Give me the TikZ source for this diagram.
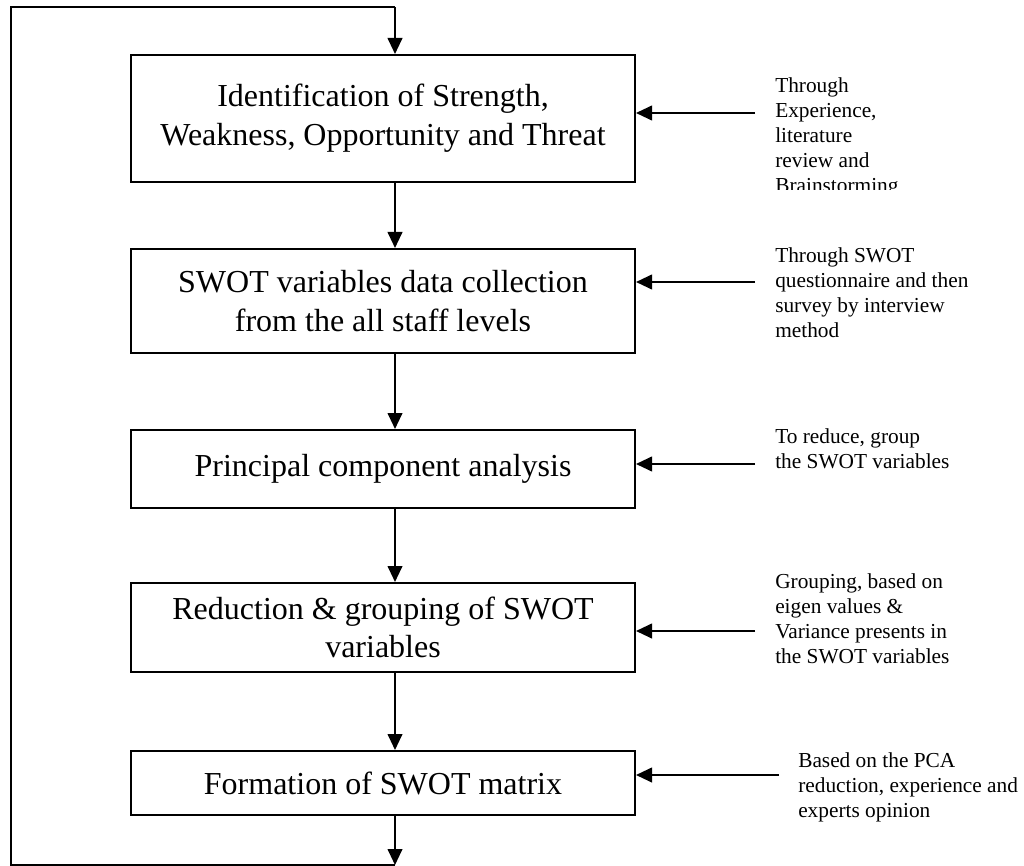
\documentclass[tikz,border=0pt]{standalone}
\usepackage{fontspec}
\setmainfont{Liberation Serif}
\usetikzlibrary{arrows.meta}
\tikzset{
  line/.style={line width=1.5pt},
  arr/.style={line width=1.5pt,-{Triangle[length=12pt,width=11pt]}},
  stepbox/.style={draw,line width=1.5pt,rectangle,minimum width=378pt,align=center,inner sep=0pt,
    font=\fontsize{24}{29}\selectfont},
  note/.style={align=left,anchor=north west,inner sep=0pt,font=\fontsize{16}{18.75}\selectfont}
}
\begin{document}
\begin{tikzpicture}[x=0.75pt,y=-0.75pt]
\useasboundingbox (0,0) rectangle (1024,866);
\node[stepbox,minimum height=95.25pt] (b1) at (383,118.5) {Identification of Strength,\\Weakness, Opportunity and Threat};
\node[stepbox,minimum height=78pt] (b2) at (383,301) {SWOT variables data collection\\from the all staff levels};
\node[stepbox,minimum height=58.5pt] (b3) at (383,469) {Principal component analysis};
\node[stepbox,minimum height=66.75pt] (b4) at (383,627.5) {Reduction \& grouping of SWOT\\variables};
\node[stepbox,minimum height=48pt] (b5) at (383,783) {Formation of SWOT matrix};
\begin{scope}
\clip (700,0) rectangle (1024,190);
\node[note] (l1) at (775,77) {Through\\Experience,\\literature\\review and\\Brainstorming};
\end{scope}
\node[note] (l2) at (775,247) {Through SWOT\\questionnaire and then\\survey by interview\\method};
\node[note] (l3) at (775,428) {To reduce, group\\the SWOT variables};
\node[note] (l4) at (775,573) {Grouping, based on\\eigen values \&\\Variance presents in\\the SWOT variables};
\node[note] (l5) at (798,752) {Based on the PCA\\reduction, experience and\\experts opinion};
\coordinate (ax) at (395,0);
\coordinate (tl) at (11,7);
\coordinate (bl) at (11,865);
\coordinate (s1) at (755,113);
\coordinate (s2) at (755,282);
\coordinate (s3) at (755,464);
\coordinate (s4) at (755,631);
\coordinate (s5) at (779,775);
\draw[arr] (b1.south -| ax) -- (b2.north -| ax);
\draw[arr] (b2.south -| ax) -- (b3.north -| ax);
\draw[arr] (b3.south -| ax) -- (b4.north -| ax);
\draw[arr] (b4.south -| ax) -- (b5.north -| ax);
\draw[arr] (b5.south -| ax) -- (bl -| ax);
\draw[line] (bl -| ax) -- (bl) -- (tl) -- (tl -| ax);
\draw[arr] (tl -| ax) -- (b1.north -| ax);
\draw[arr] (s1) -- (s1 -| b1.east);
\draw[arr] (s2) -- (s2 -| b2.east);
\draw[arr] (s3) -- (s3 -| b3.east);
\draw[arr] (s4) -- (s4 -| b4.east);
\draw[arr] (s5) -- (s5 -| b5.east);
\end{tikzpicture}
\end{document}
